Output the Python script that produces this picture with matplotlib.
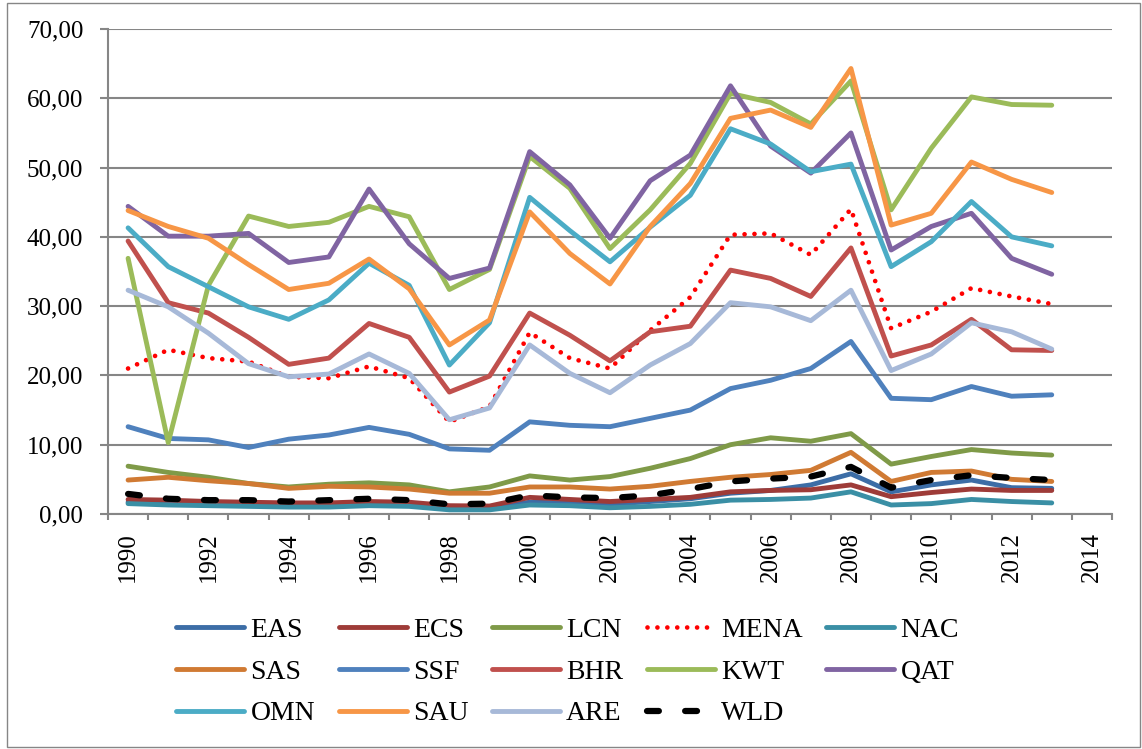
import numpy as np
from matplotlib import pyplot as plt
from matplotlib.patches import Rectangle

plt.rcParams['font.family'] = ['Liberation Serif', 'DejaVu Serif']

years = list(range(1990, 2015))  # category axis runs to 2014, data to 2013
tick_years = [y for y in years if y % 2 == 0]

EAS = [1.7, 1.5, 1.4, 1.3, 1.3, 1.3, 1.5, 1.4, 0.9, 0.9, 1.7, 1.6, 1.4, 1.8, 2.2, 3.0, 3.4, 4.2, 5.8, 3.2, 4.2, 4.9, 3.8, 3.7]
ECS = [2.1, 2.0, 1.8, 1.7, 1.6, 1.6, 1.8, 1.7, 1.2, 1.15, 2.4, 2.1, 1.8, 2.1, 2.4, 3.2, 3.4, 3.5, 4.2, 2.5, 3.1, 3.6, 3.4, 3.4]
LCN = [6.9, 6.0, 5.3, 4.4, 3.9, 4.3, 4.5, 4.2, 3.2, 3.9, 5.5, 4.9, 5.4, 6.6, 8.0, 10.0, 11.0, 10.5, 11.6, 7.2, 8.3, 9.3, 8.8, 8.5]
MENA = [21.0, 23.7, 22.5, 22.0, 19.8, 19.6, 21.3, 19.6, 13.3, 15.5, 26.2, 22.5, 21.0, 26.5, 31.3, 40.3, 40.5, 37.4, 44.0, 26.8, 29.2, 32.6, 31.4, 30.3]
NAC = [1.5, 1.3, 1.2, 1.1, 1.0, 1.0, 1.2, 1.1, 0.6, 0.6, 1.3, 1.2, 0.9, 1.1, 1.4, 2.0, 2.1, 2.3, 3.2, 1.3, 1.5, 2.1, 1.8, 1.6]
SAS = [4.9, 5.3, 4.8, 4.4, 3.7, 4.0, 3.9, 3.6, 3.0, 3.0, 3.9, 3.9, 3.6, 4.0, 4.7, 5.3, 5.7, 6.3, 8.9, 4.7, 6.0, 6.2, 5.0, 4.7]
SSF = [12.6, 10.9, 10.7, 9.6, 10.8, 11.4, 12.5, 11.5, 9.4, 9.2, 13.3, 12.8, 12.6, 13.8, 15.0, 18.1, 19.3, 21.0, 24.9, 16.7, 16.5, 18.4, 17.0, 17.2]
BHR = [39.4, 30.5, 29.0, 25.5, 21.6, 22.5, 27.5, 25.5, 17.6, 19.9, 29.0, 25.8, 22.1, 26.3, 27.1, 35.2, 34.0, 31.4, 38.4, 22.8, 24.4, 28.1, 23.7, 23.6]
KWT = [36.9, 10.3, 33.0, 43.0, 41.5, 42.1, 44.4, 42.9, 32.4, 35.3, 51.6, 47.0, 38.3, 43.9, 50.6, 60.7, 59.4, 56.3, 62.5, 43.9, 52.8, 60.2, 59.1, 59.0]
QAT = [44.4, 40.1, 40.1, 40.5, 36.3, 37.1, 46.9, 39.0, 34.0, 35.5, 52.3, 47.5, 39.8, 48.1, 51.8, 61.8, 53.1, 49.2, 55.0, 38.1, 41.5, 43.4, 36.9, 34.6]
OMN = [41.3, 35.7, 32.8, 29.9, 28.1, 30.9, 36.2, 33.0, 21.5, 27.6, 45.7, 40.9, 36.4, 41.4, 46.0, 55.6, 53.4, 49.4, 50.5, 35.7, 39.3, 45.1, 40.0, 38.7]
SAU = [43.8, 41.5, 39.8, 36.0, 32.4, 33.3, 36.8, 32.5, 24.4, 28.0, 43.6, 37.6, 33.2, 41.5, 47.7, 57.1, 58.3, 55.8, 64.3, 41.7, 43.4, 50.8, 48.3, 46.4]
ARE = [32.3, 29.9, 26.1, 21.7, 19.8, 20.2, 23.1, 20.3, 13.6, 15.3, 24.4, 20.3, 17.5, 21.5, 24.6, 30.5, 29.9, 27.9, 32.3, 20.7, 23.1, 27.6, 26.3, 23.8]
WLD = [2.9, 2.2, 2.0, 2.0, 1.8, 2.0, 2.2, 2.0, 1.4, 1.5, 2.7, 2.4, 2.3, 2.7, 3.6, 4.7, 5.1, 5.4, 6.8, 3.8, 4.9, 5.6, 5.2, 4.9]

series = [
    ("EAS", EAS, "#3C6DA6"), ("ECS", ECS, "#9E3B38"), ("LCN", LCN, "#7F9A48"),
    ("MENA", MENA, "#FF0000"), ("NAC", NAC, "#3A8FA5"), ("SAS", SAS, "#D07A33"),
    ("SSF", SSF, "#4F81BD"), ("BHR", BHR, "#C0504D"), ("KWT", KWT, "#9BBB59"),
    ("QAT", QAT, "#8064A2"), ("OMN", OMN, "#4BACC6"), ("SAU", SAU, "#F79646"),
    ("ARE", ARE, "#A7B9D8"), ("WLD", WLD, "#000000"),
]

fig = plt.figure(figsize=(11.42, 7.49), dpi=100)
ax = fig.add_axes([108 / 1142, 1 - 514 / 749, 1004 / 1142, 485 / 749])

grey = "#868686"
x = np.arange(len(EAS))
handles = {}
for name, vals, col in series:
    if name == "MENA":
        ln, = ax.plot(x, vals, color=col, lw=3.4, linestyle=(0, (0.001, 2.1)),
                      dash_capstyle="round", label=name)
    elif name == "WLD":
        ln, = ax.plot(x, vals, color=col, lw=4.5, linestyle=(0, (1.9, 4.2)),
                      dash_capstyle="round", label=name)
    else:
        ln, = ax.plot(x, vals, color=col, lw=3.5, solid_capstyle="round",
                      solid_joinstyle="round", label=name)
    handles[name] = ln

ax.set_xlim(-0.5, len(years) - 0.5)
ax.set_ylim(0, 70)
ax.set_yticks(np.arange(0, 71, 10))
ax.set_yticklabels([f"{v:.2f}".replace(".", ",") for v in np.arange(0, 71, 10)])
ax.yaxis.grid(True, color=grey, lw=1.5)
ax.set_axisbelow(True)

# category boundaries get the tick marks, even years get the labels
ax.set_xticks(np.arange(-0.5, len(years), 1.0))
ax.set_xticklabels([])
ax.set_xticks([years.index(y) for y in tick_years], minor=True)
ax.set_xticklabels([str(y) for y in tick_years], minor=True, rotation=90)
ax.tick_params(axis="x", which="major", length=4.3, width=1.5, color=grey)
ax.tick_params(axis="x", which="minor", length=0, pad=13, labelsize=18)
ax.tick_params(axis="y", length=5.8, width=1.5, color=grey, pad=12, labelsize=18)

for s in ["top", "right"]:
    ax.spines[s].set_visible(False)
for s in ["left", "bottom"]:
    ax.spines[s].set_color(grey)
    ax.spines[s].set_linewidth(1.5)

order = ["EAS", "SAS", "OMN", "ECS", "SSF", "SAU", "LCN", "BHR", "ARE",
         "MENA", "KWT", "WLD", "NAC", "QAT"]
fig.legend([handles[n] for n in order], order, loc="center",
           bbox_to_anchor=(0.497, 1 - 672 / 749), ncol=5, frameon=False,
           fontsize=20, handlelength=2.45, handletextpad=0.22,
           columnspacing=0.85, labelspacing=0.58, borderpad=0)

fig.patches.append(Rectangle((7 / 1142, 2 / 749), 1133 / 1142, 744 / 749,
                             transform=fig.transFigure, fill=False,
                             edgecolor=grey, lw=1))

fig.savefig("out.png", dpi=100)
